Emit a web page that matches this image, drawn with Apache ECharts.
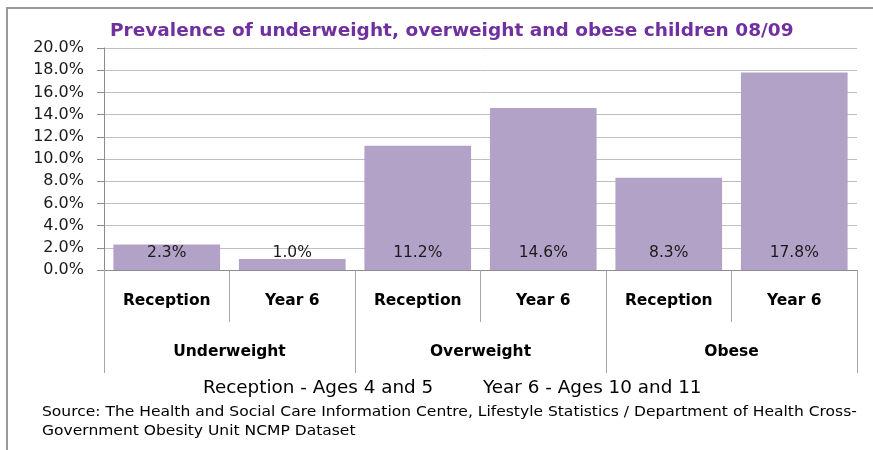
<!DOCTYPE html>
<html>
<head>
<meta charset="utf-8">
<title>Prevalence of underweight, overweight and obese children 08/09</title>
<script src="https://cdn.jsdelivr.net/npm/echarts@6/dist/echarts.min.js"></script>
<style>
  html, body { margin: 0; padding: 0; background: #ffffff; }
  #chart { width: 873px; height: 450px; }
</style>
</head>
<body>
<div id="chart"></div>
<script>
// Age-group categories within each weight group
const ageGroups = ['Reception', 'Year 6', 'Reception', 'Year 6', 'Reception', 'Year 6'];
// Weight groups spanning two age-group columns each
const weightGroups = ['Underweight', 'Overweight', 'Obese'];
// Prevalence (%) per column, 2008/09
const prevalence = [2.3, 1.0, 11.2, 14.6, 8.3, 17.8];
// Value axis range
const yMin = 0, yMax = 20, yStep = 2;

const titleText = 'Prevalence of underweight, overweight and obese children 08/09';
const ageNoteLeft = 'Reception - Ages 4 and 5';
const ageNoteRight = 'Year 6 - Ages 10 and 11';
const sourceLine1 = 'Source: The Health and Social Care Information Centre, Lifestyle Statistics / Department of Health Cross-';
const sourceLine2 = 'Government Obesity Unit NCMP Dataset';

const FONT = 'DejaVu Sans';
const chart = echarts.init(document.getElementById('chart'), null, { renderer: 'canvas' });

// Free-standing text, anchored at its left edge and vertically centred,
// widened slightly with scaleX to give a broader face.
function note(text, x, y, font, fill, sx) {
  return {
    type: 'text', x: x, y: y, scaleX: sx, silent: true,
    style: { text: text, font: font, fill: fill, align: 'left', verticalAlign: 'middle' }
  };
}

chart.setOption({
  backgroundColor: '#ffffff',
  animation: false,
  grid: { left: 104, right: 16, top: 48, bottom: 180, containLabel: false },
  xAxis: [
    {
      type: 'category',
      data: ageGroups,
      position: 'bottom',
      axisLine: { show: true, lineStyle: { color: '#8c8c8c', width: 1 } },
      axisTick: { show: true, interval: 0, length: 52, lineStyle: { color: '#a6a6a6' } },
      axisLabel: {
        interval: 0, margin: 23,
        fontFamily: FONT, fontWeight: 'bold', fontSize: 15.5, color: '#000000'
      },
      splitLine: { show: false }
    },
    {
      type: 'category',
      data: weightGroups,
      position: 'bottom',
      offset: 0,
      axisLine: { show: false },
      axisTick: { show: true, interval: 0, length: 103, lineStyle: { color: '#a6a6a6' } },
      axisLabel: {
        interval: 0, margin: 74,
        fontFamily: FONT, fontWeight: 'bold', fontSize: 15.5, color: '#000000'
      },
      splitLine: { show: false }
    }
  ],
  yAxis: {
    type: 'value',
    min: yMin, max: yMax, interval: yStep,
    axisLine: { show: true, lineStyle: { color: '#8c8c8c' } },
    axisTick: { show: true, length: 7, lineStyle: { color: '#8c8c8c' } },
    axisLabel: {
      margin: 20, fontFamily: FONT, fontSize: 16, color: '#1a1a1a',
      formatter: v => v.toFixed(1) + '%'
    },
    splitLine: { show: true, lineStyle: { color: '#bfbfbf', width: 1 } }
  },
  series: [{
    type: 'bar',
    xAxisIndex: 0,
    data: prevalence,
    barCategoryGap: '15%',
    itemStyle: { color: '#b3a2c7' },
    label: {
      show: true,
      position: 'insideBottom',
      distance: 9,
      fontFamily: FONT, fontSize: 15.5, color: '#1a1a1a',
      formatter: p => p.value.toFixed(1) + '%'
    }
  }],
  graphic: [
    {
      type: 'rect', silent: true, z: -1,
      shape: { x: 7, y: 8, width: 900, height: 500 },
      style: { fill: null, stroke: '#999999', lineWidth: 2 }
    },
    note(titleText, 110, 32, 'bold 17px "DejaVu Sans"', '#7030a0', 1.09),
    note(ageNoteLeft, 203, 389, '17px "DejaVu Sans"', '#000000', 1.08),
    note(ageNoteRight, 483, 389, '17px "DejaVu Sans"', '#000000', 1.08),
    note(sourceLine1, 42, 412, '13.5px "DejaVu Sans"', '#000000', 1.15),
    note(sourceLine2, 42, 431, '13.5px "DejaVu Sans"', '#000000', 1.15)
  ]
});
</script>
</body>
</html>
